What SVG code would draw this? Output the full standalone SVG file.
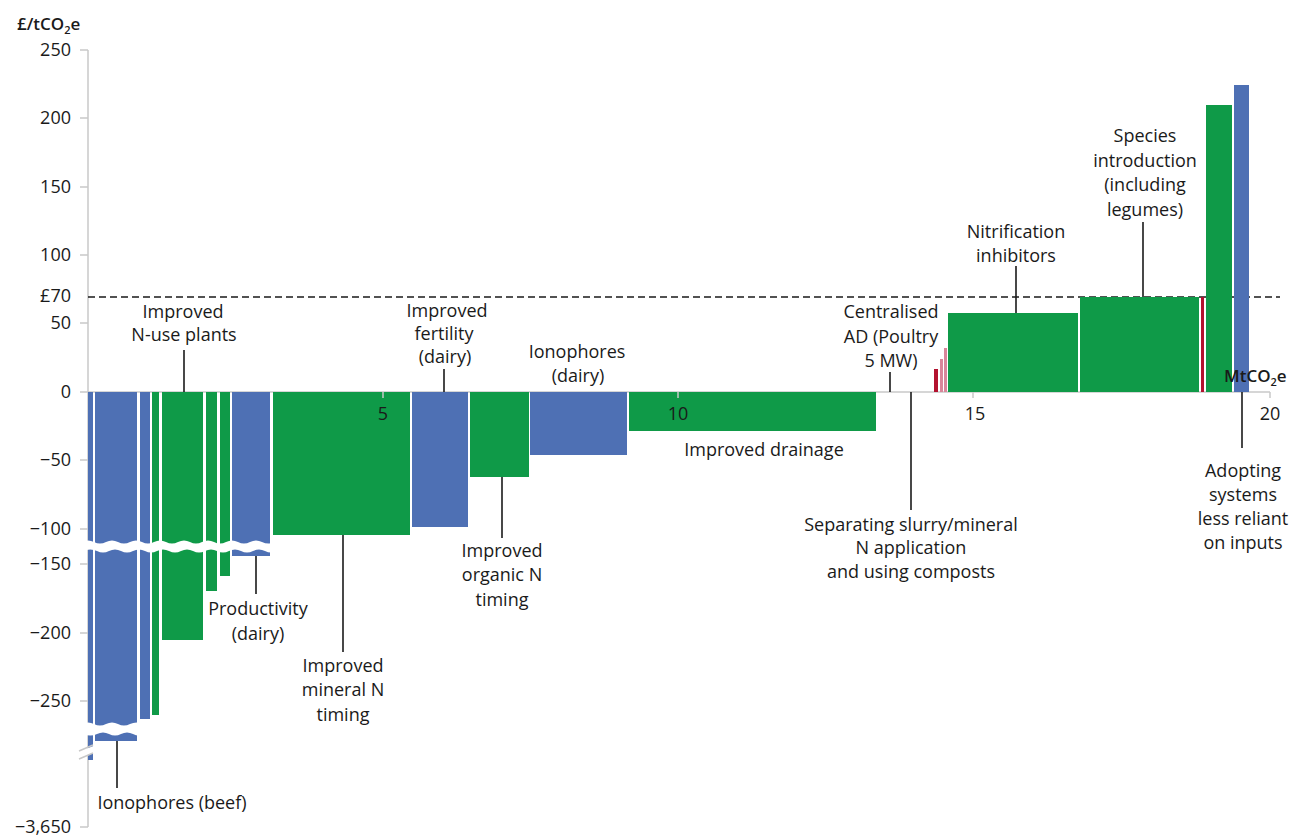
<svg xmlns="http://www.w3.org/2000/svg" width="1292" height="838" viewBox="0 0 1292 838">
<style>
text{font-family:"Open Sans","Liberation Sans",sans-serif;font-size:18px;fill:#1a1a1a}
.lbl{text-anchor:middle}
.tick{text-anchor:end}
.ax{stroke:#c8c8c8;stroke-width:1.5;fill:none}
.b{fill:#4e70b4}
.g{fill:#0f9a48}
.r{fill:#b3122f}
.p{fill:#d9869a}
.lead{stroke:#1a1a1a;stroke-width:1.6;fill:none}
.t{font-weight:600;font-size:17px}
</style>
<rect width="1292" height="838" fill="#ffffff"/>
<g id="axes">
  <line class="ax" x1="88" y1="50" x2="88" y2="827"/>
  <line class="ax" x1="88" y1="392" x2="1270" y2="392"/>
  <g class="ax">
    <line x1="80" y1="50" x2="88" y2="50"/><line x1="80" y1="118" x2="88" y2="118"/>
    <line x1="80" y1="187" x2="88" y2="187"/><line x1="80" y1="255" x2="88" y2="255"/>
    <line x1="80" y1="323" x2="88" y2="323"/><line x1="80" y1="392" x2="88" y2="392"/>
    <line x1="80" y1="460" x2="88" y2="460"/><line x1="80" y1="529" x2="88" y2="529"/>
    <line x1="80" y1="564" x2="88" y2="564"/><line x1="80" y1="633" x2="88" y2="633"/>
    <line x1="80" y1="701" x2="88" y2="701"/><line x1="80" y1="827" x2="88" y2="827"/>
  </g>
  <text class="t" x="17" y="30">£/tCO<tspan font-size="11" dy="4">2</tspan><tspan dy="-4">e</tspan></text>
  <g class="tick">
    <text class="tick" x="71" y="56">250</text>
    <text class="tick" x="71" y="124">200</text>
    <text class="tick" x="71" y="193">150</text>
    <text class="tick" x="71" y="261">100</text>
    <text class="tick" x="71" y="302">£70</text>
    <text class="tick" x="71" y="329">50</text>
    <text class="tick" x="71" y="398">0</text>
    <text class="tick" x="71" y="466">−50</text>
    <text class="tick" x="71" y="535">−100</text>
    <text class="tick" x="71" y="570">−150</text>
    <text class="tick" x="71" y="639">−200</text>
    <text class="tick" x="71" y="707">−250</text>
    <text class="tick" x="71" y="833">−3,650</text>
  </g>
  <line x1="88" y1="297" x2="1280" y2="297" stroke="#1a1a1a" stroke-width="1.5" stroke-dasharray="7,4"/>
</g>
<g id="bars">
  <rect class="b" x="88" y="392" width="5" height="368"/>
  <rect class="b" x="95" y="392" width="42" height="349"/>
  <rect class="b" x="140" y="392" width="10" height="327"/>
  <rect class="g" x="152" y="392" width="7" height="323"/>
  <rect class="g" x="162" y="392" width="41" height="248"/>
  <rect class="g" x="206" y="392" width="11" height="199"/>
  <rect class="g" x="220" y="392" width="10" height="184"/>
  <rect class="b" x="232" y="392" width="38" height="164"/>
  <rect class="g" x="273" y="392" width="137" height="143"/>
  <rect class="b" x="412" y="392" width="56" height="135"/>
  <rect class="g" x="470" y="392" width="59" height="85"/>
  <rect class="b" x="530" y="392" width="97" height="63"/>
  <rect class="g" x="629" y="392" width="247" height="39"/>
  <rect class="r" x="934" y="369" width="4" height="23"/>
  <rect class="p" x="940" y="359" width="3" height="33"/>
  <rect class="p" x="944" y="348" width="3" height="44"/>
  <rect class="g" x="948" y="313" width="130" height="79"/>
  <rect class="g" x="1080" y="297" width="119" height="95"/>
  <rect class="r" x="1201" y="297" width="3" height="95"/>
  <rect class="g" x="1206" y="105" width="26" height="287"/>
  <rect class="b" x="1234" y="85" width="15" height="307"/>
  <path fill="#ffffff" d="M82,542 Q88,539 94,542 T106,542 T118,542 T130,542 T142,542 T154,542 T166,542 T178,542 T190,542 T202,542 T214,542 T226,542 T238,542 T250,542 T262,542 T277,542 L277,551 Q271,554 265,551 T253,551 T241,551 T229,551 T217,551 T205,551 T193,551 T181,551 T169,551 T157,551 T145,551 T133,551 T121,551 T109,551 T97,551 T82,551 Z"/>
  <path fill="#ffffff" d="M82,724 Q88,721 94,724 T106,724 T118,724 T130,724 T145,724 L145,734 Q139,737 133,734 T121,734 T109,734 T97,734 T82,734 Z"/>
  <polygon fill="#ffffff" points="78,752 96,745 96,752 78,759"/>
  <line class="ax" x1="79" y1="751" x2="93" y2="745"/>
  <line class="ax" x1="79" y1="759" x2="93" y2="753"/>
  <g class="ax" stroke="#dddddd">
    <line x1="383" y1="392" x2="383" y2="398"/><line x1="678" y1="392" x2="678" y2="398"/>
    <line x1="973" y1="392" x2="973" y2="398"/><line x1="1270" y1="392" x2="1270" y2="398"/>
  </g>
  <text class="lbl" x="383" y="420">5</text>
  <text class="lbl" x="678" y="420">10</text>
  <text class="lbl" x="975" y="420">15</text>
  <text class="lbl" x="1270" y="420">20</text>
  <text class="t" x="1224" y="382">MtCO<tspan font-size="11" dy="4">2</tspan><tspan dy="-4">e</tspan></text>
</g>
<g id="connectors">
  <line class="lead" x1="184" y1="350" x2="184" y2="392"/>
  <line class="lead" x1="444" y1="369" x2="444" y2="392"/>
  <line class="lead" x1="502" y1="477" x2="502" y2="538"/>
  <line class="lead" x1="256" y1="556" x2="256" y2="594"/>
  <line class="lead" x1="343" y1="535" x2="343" y2="652"/>
  <line class="lead" x1="117" y1="741" x2="117" y2="788"/>
  <line class="lead" x1="911" y1="392" x2="911" y2="510"/>
  <line class="lead" x1="890" y1="372" x2="890" y2="392"/>
  <line class="lead" x1="1016" y1="266" x2="1016" y2="313"/>
  <line class="lead" x1="1143" y1="222" x2="1143" y2="297"/>
  <line class="lead" x1="1242" y1="392" x2="1242" y2="448"/>
</g>
<g id="n-use"><text class="lbl" x="183" y="318">Improved</text><text class="lbl" x="184" y="341">N-use plants</text></g>
<g id="fertility"><text class="lbl" x="447" y="317">Improved</text><text class="lbl" x="444" y="340">fertility</text><text class="lbl" x="445" y="363">(dairy)</text></g>
<g id="iono-dairy"><text class="lbl" x="577" y="358">Ionophores</text><text class="lbl" x="578" y="382">(dairy)</text></g>
<g id="drainage"><text class="lbl" x="764" y="456">Improved drainage</text></g>
<g id="organic"><text class="lbl" x="502" y="557">Improved</text><text class="lbl" x="502" y="581">organic N</text><text class="lbl" x="502" y="606">timing</text></g>
<g id="productivity"><text class="lbl" x="258" y="615">Productivity</text><text class="lbl" x="258" y="640">(dairy)</text></g>
<g id="mineral"><text class="lbl" x="343" y="672">Improved</text><text class="lbl" x="343" y="696">mineral N</text><text class="lbl" x="343" y="721">timing</text></g>
<g id="iono-beef"><text class="lbl" x="172" y="809">Ionophores (beef)</text></g>
<g id="separating"><text class="lbl" x="911" y="531">Separating slurry/mineral</text><text class="lbl" x="911" y="554">N application</text><text class="lbl" x="911" y="578">and using composts</text></g>
<g id="centralised"><text class="lbl" x="891" y="318">Centralised</text><text class="lbl" x="891" y="343">AD (Poultry</text><text class="lbl" x="891" y="367">5 MW)</text></g>
<g id="nitrification"><text class="lbl" x="1016" y="238">Nitrification</text><text class="lbl" x="1016" y="262">inhibitors</text></g>
<g id="species"><text class="lbl" x="1145" y="142">Species</text><text class="lbl" x="1145" y="167">introduction</text><text class="lbl" x="1145" y="191">(including</text><text class="lbl" x="1145" y="216">legumes)</text></g>
<g id="adopting"><text class="lbl" x="1243" y="477">Adopting</text><text class="lbl" x="1243" y="501">systems</text><text class="lbl" x="1243" y="525">less reliant</text><text class="lbl" x="1243" y="549">on inputs</text></g>
</svg>
